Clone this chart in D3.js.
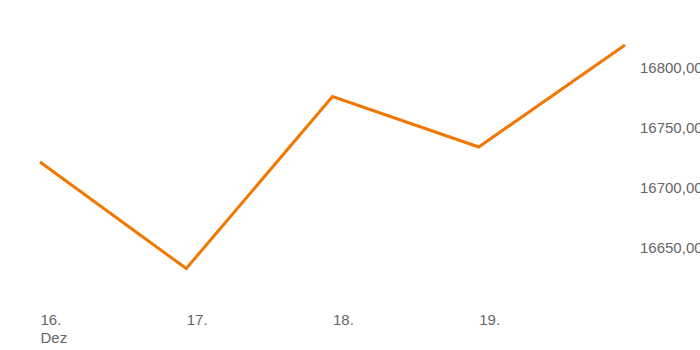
<!DOCTYPE html>
<html><head><meta charset="utf-8">
<script src="https://cdn.jsdelivr.net/npm/d3@7"></script>
<style>body{margin:0;background:#fff;overflow:hidden}svg{display:block}</style>
</head><body>
<script>
const dates = ["2023-12-16","2023-12-17","2023-12-18","2023-12-19","2023-12-20"];
const values = [16721.6, 16632.8, 16776.2, 16734.1, 16819.1];
const yTicks = [16650, 16700, 16750, 16800];
const xTickLabels = ["16.", "17.", "18.", "19."];

const W = 700, H = 350;
const FONT = "Liberation Sans, Arial, sans-serif";
const svg = d3.select("body").append("svg").attr("width", W).attr("height", H);
const parse = d3.timeParse("%Y-%m-%d");
const xd = dates.map(parse);
const x = d3.scaleTime().domain([xd[0], xd[4]]).range([40, 625]);
const y = d3.scaleLinear().domain([16650, 16800]).range([247.9, 67.9]);

const fmt = v => d3.format(".2f")(v).replace(".", ",");

const ya = svg.append("g").attr("transform", "translate(640,0)")
  .call(d3.axisRight(y).tickValues(yTicks).tickSize(0).tickPadding(0).tickFormat(fmt));
ya.select(".domain").remove();
ya.selectAll("text").attr("fill", "#666").style("font-family", FONT).style("font-size", "15px");

const xa = svg.append("g").attr("transform", "translate(0,314)")
  .call(d3.axisBottom(x).tickValues(xd.slice(0, 4)).tickSize(0).tickPadding(0).tickFormat((d, i) => xTickLabels[i]));
xa.select(".domain").remove();
xa.selectAll("text").attr("fill", "#666").attr("text-anchor", "start").attr("dy", "0.71em")
  .style("font-family", FONT).style("font-size", "15px");
xa.selectAll(".tick").filter((d, i) => i === 0).append("text")
  .attr("y", 18).attr("dy", "0.71em").attr("fill", "#666").attr("text-anchor", "start")
  .style("font-family", FONT).style("font-size", "15px").text("Dez");

svg.append("path").datum(values)
  .attr("fill", "none").attr("stroke", "#f07800").attr("stroke-width", 3).attr("stroke-linejoin", "miter")
  .attr("d", d3.line().x((d, i) => x(xd[i])).y(d => y(d)));
</script>
</body></html>
